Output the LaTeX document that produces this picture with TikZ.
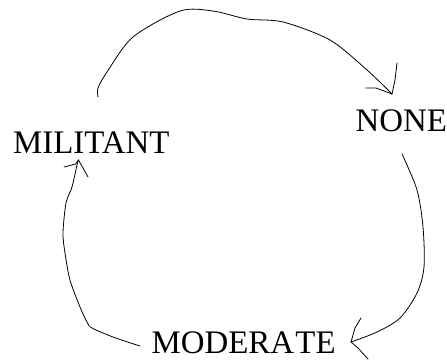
\documentclass[tikz,border=0pt]{standalone}
\usepackage{fontspec}
\setmainfont{Liberation Serif}
\begin{document}
\begin{tikzpicture}[x=1bp,y=-1bp,
  lbl/.style={anchor=base west,inner sep=0pt,text depth=0pt,font=\fontsize{33}{33}\selectfont},
  curve/.style={line width=0.8bp,line cap=round,line join=round}]
\useasboundingbox (0,0) rectangle (447,360);
\node[lbl] (mil) at (13,153) {MILITANT};
\node[lbl] (non) at (355.5,131) {NONE};
\node[lbl] (mod) at (151.5,353.5) {MODERA\kern0.04em TE};
% MILITANT -> NONE
\coordinate (t1) at (392,94);
\draw[curve] plot[smooth,tension=0.5] coordinates {(98,97) (98,88) (107,72) (133,37) (180,11) (213,11) (247,19) (283,22) (330,40) (367,70) (392,94)};
\draw[curve] (t1) -- (395,80) -- (397,63);
\draw[curve] (t1) -- (376,88) -- (366,88);
% NONE -> MODERATE
\coordinate (t2) at (351,342);
\draw[curve] plot[smooth,tension=0.5] coordinates {(402,154) (417,190) (423,227) (424,267) (417,293) (400,318) (377,332) (351,342)};
\draw[curve] (t2) -- (355,328) -- (361,318);
\draw[curve] (t2) -- (358,348) -- (368,359);
% MODERATE -> MILITANT
\coordinate (t3) at (78.5,160);
\draw[curve] plot[smooth,tension=0.5] coordinates {(140,346) (113,337) (92,328) (87,322) (80,307) (70,280) (65,253) (63,233) (66,203) (72,187) (77,165) (78.5,160)};
\draw[curve] (t3) -- (75.5,164) -- (64,167);
\draw[curve] (t3) -- (88,177);
\end{tikzpicture}
\end{document}
